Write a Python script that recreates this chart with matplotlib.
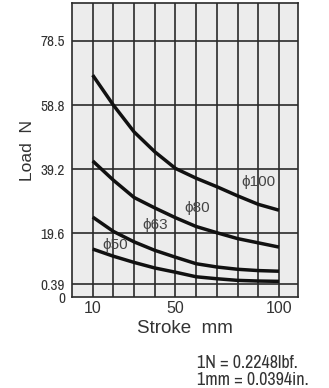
# Load vs. stroke curves for several bore sizes

import matplotlib
matplotlib.use("Agg")
import matplotlib.pyplot as plt
from matplotlib import font_manager

# DATA #
stroke = [10, 20, 30, 40, 50, 60, 70, 80, 90, 100]
load_d100 = [68.0, 58.8, 50.6, 44.5, 39.4, 36.4, 33.8, 31.0, 28.4, 26.6]
load_d80 = [41.7, 35.8, 30.5, 27.3, 24.3, 21.6, 19.7, 17.9, 16.6, 15.3]
load_d63 = [24.5, 20.1, 16.9, 14.3, 12.2, 10.2, 9.2, 8.5, 8.1, 7.9]
load_d50 = [14.7, 12.5, 10.6, 8.9, 7.6, 6.2, 5.6, 5.1, 4.9, 4.8]

bore_labels = ["\u03d5100", "\u03d580", "\u03d563", "\u03d550"]
label_pos = [(90, 35.2), (60.4, 27.2), (40, 22.0), (21, 15.9)]

x_ticks = [10, 50, 100]
y_grid = [3.9, 19.6, 39.2, 58.8, 78.5]
y_tick_labels = ["0.39", "19.6", "39.2", "58.8", "78.5"]


def first_font(candidates):
    installed = {f.name for f in font_manager.fontManager.ttflist}
    for name in candidates:
        if name in installed:
            return [name, "DejaVu Sans"]
    return ["DejaVu Sans"]


narrow = first_font(["Liberation Sans Narrow", "Arial Narrow", "Archivo Narrow",
                     "PT Sans Narrow", "Roboto Condensed", "Pragati Narrow",
                     "Barlow Condensed", "Encode Sans Condensed"])
plain = first_font(["Arimo", "Liberation Sans", "Arial", "Helvetica", "Roboto"])

# PLOT #
fig = plt.figure(figsize=(3.29, 3.88), dpi=100)
ax = fig.add_axes([0.2188, 0.2345, 0.687, 0.7578])
ax.set_facecolor("#ececec")

ax.set_xlim(0, 109.2)
ax.set_ylim(0, 90.1)

# grid lines
for gx in range(10, 101, 10):
    ax.axvline(gx, color="#2a2a2a", lw=1.2, zorder=1)
for gy in y_grid:
    ax.axhline(gy, color="#2a2a2a", lw=1.2, zorder=1)

for spine in ax.spines.values():
    spine.set_color("#2a2a2a")
    spine.set_linewidth(1.2)

for series in [load_d100, load_d80, load_d63, load_d50]:
    ax.plot(stroke, series, color="#111111", lw=2.5, solid_capstyle="butt",
            solid_joinstyle="round", zorder=3)

for text, (lx, ly) in zip(bore_labels, label_pos):
    ax.text(lx, ly, text, ha="center", va="center", fontsize=11,
            family=plain, color="#444444", zorder=4)

ax.set_xticks(x_ticks)
ax.set_xticklabels([str(t) for t in x_ticks], family=plain, fontsize=11.5, color="#333333")
ax.set_yticks([0] + y_grid)
ax.set_yticklabels(["0"] + y_tick_labels, family=narrow, fontsize=11, color="#333333")
ax.tick_params(axis="both", length=0, pad=5)
ax.tick_params(axis="x", pad=3)

ax.set_xlabel("Stroke  mm", family=plain, fontsize=13.5, color="#333333", labelpad=3)
ax.set_ylabel("Load  N", family=plain, fontsize=12.5, color="#333333", labelpad=4)

fig.text(0.598, 0.064, "1N = 0.2248lbf.", family=narrow, fontsize=13, color="#333333",
         ha="left", va="center")
fig.text(0.598, 0.020, "1mm = 0.0394in.", family=narrow, fontsize=13, color="#333333",
         ha="left", va="center")

fig.savefig("out.png", dpi=100, facecolor="white")
